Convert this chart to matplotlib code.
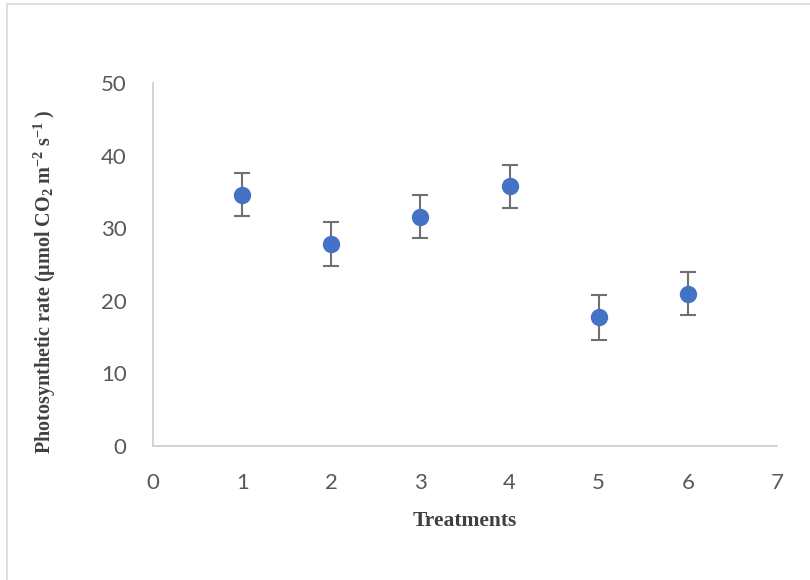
import matplotlib
matplotlib.use("Agg")
import matplotlib.pyplot as plt
from matplotlib.patches import Rectangle

# data
treatments = [1, 2, 3, 4, 5, 6]
rate = [34.6, 27.8, 31.6, 35.8, 17.7, 21.0]
err = [2.95, 3.0, 3.0, 2.95, 3.05, 2.9]
xticks = [0, 1, 2, 3, 4, 5, 6, 7]
yticks = [0, 10, 20, 30, 40, 50]

plt.rcParams['mathtext.fontset'] = 'custom'
plt.rcParams['mathtext.rm'] = 'Liberation Serif:bold'
plt.rcParams['mathtext.bf'] = 'Liberation Serif:bold'
plt.rcParams['mathtext.it'] = 'Liberation Serif:bold'

fig = plt.figure(figsize=(8.1, 5.8), dpi=100)
fig.patches.append(Rectangle((7/810, -0.05), 1.1, 1.05 - 4/580, transform=fig.transFigure,
                             fill=False, edgecolor='#d9d9d9', linewidth=1.2))

ax = fig.add_axes([153/810, (580-446)/580, (777-153)/810, (446-83)/580])
ax.errorbar(treatments, rate, yerr=err, fmt='none', ecolor='#707070',
            elinewidth=1.5, capsize=5.8, capthick=1.5, zorder=2)
ax.plot(treatments, rate, 'o', color='#4472C4', markersize=11.5, zorder=3)

ax.set_xlim(0, 7)
ax.set_ylim(0, 50)
ax.set_xticks(xticks)
ax.set_yticks(yticks)
ax.tick_params(length=0, labelsize=16, labelcolor='#595959')
ax.tick_params(axis='x', pad=19.5)
ax.tick_params(axis='y', pad=19)
for lab in ax.get_xticklabels() + ax.get_yticklabels():
    lab.set_family('Lato')

for s in ['top', 'right']:
    ax.spines[s].set_visible(False)
for s in ['left', 'bottom']:
    ax.spines[s].set_color('#d0d0d0')
    ax.spines[s].set_linewidth(1.3)

ax.set_xlabel('Treatments', family='Liberation Serif', fontweight='bold',
              fontsize=15.5, color='#404040', labelpad=13)
fig.text(45/810, 1 - 282/580,
         r'Photosynthetic rate ($\mathrm{\mu}$mol CO$_2$ m$^{-2}$ s$^{-1}$ )',
         family='Liberation Serif', fontweight='bold', fontsize=14.5,
         color='#404040', rotation=90, ha='center', va='center')

fig.savefig('out.png', dpi=100)
